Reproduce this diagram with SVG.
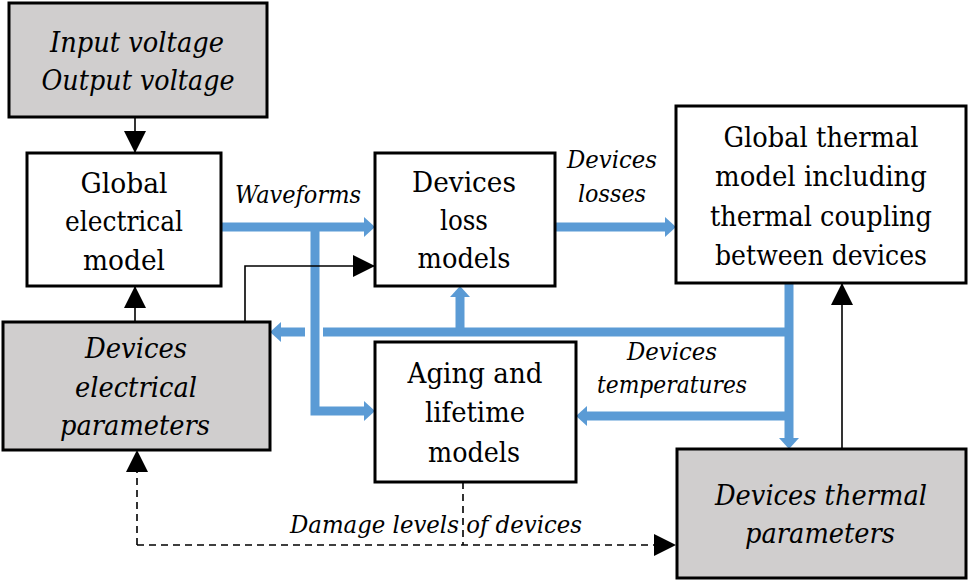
<svg xmlns="http://www.w3.org/2000/svg" width="968" height="582" viewBox="0 0 968 582">
<defs>
<style>
.box{fill:#fff;stroke:#000;stroke-width:3}
.gray{fill:#d0cece;stroke:#000;stroke-width:3}
text{font-family:'DejaVu Serif','Liberation Serif',serif;fill:#000;text-anchor:middle}
.t{font-size:28px}
.i{font-style:italic}
.lbl{font-size:25px;font-style:italic}
.blue{fill:none;stroke:#5b9bd5;stroke-width:9;stroke-linejoin:miter}
.blk{fill:none;stroke:#000;stroke-width:1.6}
.dash{fill:none;stroke:#000;stroke-width:1.6;stroke-dasharray:7,5}
</style>
<marker id="ba" markerUnits="userSpaceOnUse" markerWidth="11" markerHeight="20" viewBox="0 0 11 20" refX="0" refY="10" orient="auto">
<path d="M0,0 L11,10 L0,20 Z" fill="#5b9bd5"/>
</marker>
<marker id="ka" markerUnits="userSpaceOnUse" markerWidth="22" markerHeight="22" viewBox="0 0 22 22" refX="22" refY="11" orient="auto">
<path d="M0,0 L22,11 L0,22 Z" fill="#000"/>
</marker>
</defs>
<g id="connectors">
<path class="blue" d="M221,227 H364" marker-end="url(#ba)"/>
<path class="blue" d="M315,227 V411 H364" marker-end="url(#ba)"/>
<path class="blue" d="M555,227 H665" marker-end="url(#ba)"/>
<path class="blue" d="M789,283 V438" marker-end="url(#ba)"/>
<path class="blue" d="M789,332 H323"/>
<path class="blue" d="M305,332 H281" marker-end="url(#ba)"/>
<path class="blue" d="M460,332 V297" marker-end="url(#ba)"/>
<path class="blue" d="M789,416 H587" marker-end="url(#ba)"/>
<path class="blk" d="M135,117 V153" marker-end="url(#ka)"/>
<path class="blk" d="M135,322 V286" marker-end="url(#ka)"/>
<path class="blk" d="M245,322 V266 H375" marker-end="url(#ka)"/>
<path class="blk" d="M842,449 V283" marker-end="url(#ka)"/>
<path class="dash" d="M463,482 V545"/>
<path class="dash" d="M137,545 H676" marker-end="url(#ka)"/>
<path class="dash" d="M137,545 V450" marker-end="url(#ka)"/>
</g>
<g id="input-output-voltage">
<rect class="gray" x="9" y="3" width="258" height="114"/>
<text class="t i" x="137" y="52" textLength="174" lengthAdjust="spacingAndGlyphs">Input voltage</text>
<text class="t i" x="138" y="90" textLength="193" lengthAdjust="spacingAndGlyphs">Output voltage</text>
</g>
<g id="global-electrical-model">
<rect class="box" x="27" y="153" width="194" height="133"/>
<text class="t" x="124" y="193" textLength="87" lengthAdjust="spacingAndGlyphs">Global</text>
<text class="t" x="124" y="231" textLength="118" lengthAdjust="spacingAndGlyphs">electrical</text>
<text class="t" x="124" y="270" textLength="82" lengthAdjust="spacingAndGlyphs">model</text>
</g>
<g id="devices-loss-models">
<rect class="box" x="375" y="153" width="180" height="133"/>
<text class="t" x="464" y="192" textLength="104" lengthAdjust="spacingAndGlyphs">Devices</text>
<text class="t" x="464" y="230" textLength="48" lengthAdjust="spacingAndGlyphs">loss</text>
<text class="t" x="464" y="268" textLength="93" lengthAdjust="spacingAndGlyphs">models</text>
</g>
<g id="global-thermal-model">
<rect class="box" x="676" y="106" width="290" height="177"/>
<text class="t" x="821" y="147" textLength="195" lengthAdjust="spacingAndGlyphs">Global thermal</text>
<text class="t" x="821" y="186" textLength="212" lengthAdjust="spacingAndGlyphs">model including</text>
<text class="t" x="821" y="226" textLength="222" lengthAdjust="spacingAndGlyphs">thermal coupling</text>
<text class="t" x="821" y="265" textLength="212" lengthAdjust="spacingAndGlyphs">between devices</text>
</g>
<g id="devices-electrical-parameters">
<rect class="gray" x="3" y="322" width="267" height="128"/>
<text class="t i" x="136" y="358" textLength="102" lengthAdjust="spacingAndGlyphs">Devices</text>
<text class="t i" x="136" y="397" textLength="122" lengthAdjust="spacingAndGlyphs">electrical</text>
<text class="t i" x="135" y="435" textLength="150" lengthAdjust="spacingAndGlyphs">parameters</text>
</g>
<g id="aging-lifetime-models">
<rect class="box" x="375" y="342" width="201" height="140"/>
<text class="t" x="475" y="383" textLength="135" lengthAdjust="spacingAndGlyphs">Aging and</text>
<text class="t" x="475" y="422" textLength="100" lengthAdjust="spacingAndGlyphs">lifetime</text>
<text class="t" x="474" y="462" textLength="92" lengthAdjust="spacingAndGlyphs">models</text>
</g>
<g id="devices-thermal-parameters">
<rect class="gray" x="677" y="449" width="289" height="129"/>
<text class="t i" x="821" y="505" textLength="212" lengthAdjust="spacingAndGlyphs">Devices thermal</text>
<text class="t i" x="820" y="543" textLength="150" lengthAdjust="spacingAndGlyphs">parameters</text>
</g>
<g id="labels">
<text class="lbl" x="298" y="203" textLength="126" lengthAdjust="spacingAndGlyphs">Waveforms</text>
<text class="lbl" x="612" y="168" textLength="90" lengthAdjust="spacingAndGlyphs">Devices</text>
<text class="lbl" x="612" y="202" textLength="68" lengthAdjust="spacingAndGlyphs">losses</text>
<text class="lbl" x="672" y="360" textLength="90" lengthAdjust="spacingAndGlyphs">Devices</text>
<text class="lbl" x="672" y="393" textLength="150" lengthAdjust="spacingAndGlyphs">temperatures</text>
<text class="lbl" x="436" y="533" textLength="292" lengthAdjust="spacingAndGlyphs">Damage levels of devices</text>
</g>
</svg>
